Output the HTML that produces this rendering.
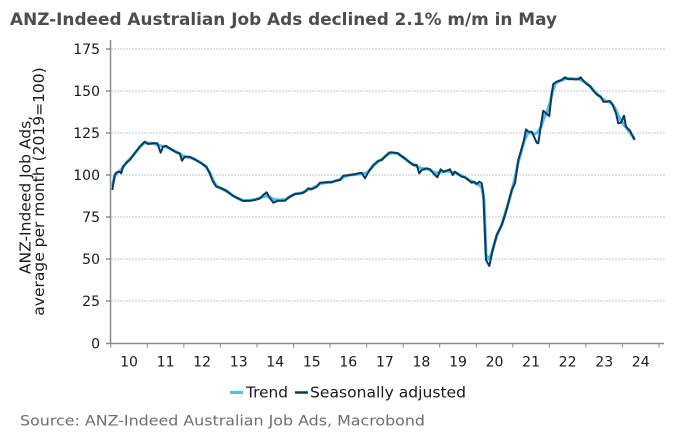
<!DOCTYPE html>
<html><head><meta charset="utf-8"><style>
html,body{margin:0;padding:0;background:#fff;}
svg{display:block;}
text{font-family:"DejaVu Sans","Liberation Sans",sans-serif;}
</style></head><body>
<svg width="680" height="440" viewBox="0 0 680 440" xmlns="http://www.w3.org/2000/svg">
<text x="10" y="25" font-size="17" font-weight="bold" fill="#4d4d4d" textLength="547" lengthAdjust="spacingAndGlyphs">ANZ-Indeed Australian Job Ads declined 2.1% m/m in May</text>
<g stroke="#bccbd6" stroke-width="1" stroke-dasharray="2,1">
<line x1="111" y1="49" x2="665" y2="49"/>
<line x1="111" y1="91" x2="665" y2="91"/>
<line x1="111" y1="133" x2="665" y2="133"/>
<line x1="111" y1="175" x2="665" y2="175"/>
<line x1="111" y1="217" x2="665" y2="217"/>
<line x1="111" y1="259" x2="665" y2="259"/>
<line x1="111" y1="301" x2="665" y2="301"/>
</g>
<g stroke="#8a8a8a" stroke-width="1.5" fill="none">
<line x1="110.5" y1="40" x2="110.5" y2="344"/>
<line x1="110" y1="343.5" x2="664" y2="343.5"/>
<line x1="106" y1="49" x2="110" y2="49"/>
<line x1="106" y1="91" x2="110" y2="91"/>
<line x1="106" y1="133" x2="110" y2="133"/>
<line x1="106" y1="175" x2="110" y2="175"/>
<line x1="106" y1="217" x2="110" y2="217"/>
<line x1="106" y1="259" x2="110" y2="259"/>
<line x1="106" y1="301" x2="110" y2="301"/>
<line x1="106" y1="343.5" x2="110" y2="343.5"/>
</g>
<g stroke="#8a8a8a" stroke-width="1">
<line x1="110.75" y1="344" x2="110.75" y2="347.5"/>
<line x1="147.3" y1="344" x2="147.3" y2="347.5"/>
<line x1="183.85" y1="344" x2="183.85" y2="347.5"/>
<line x1="220.4" y1="344" x2="220.4" y2="347.5"/>
<line x1="256.95" y1="344" x2="256.95" y2="347.5"/>
<line x1="293.5" y1="344" x2="293.5" y2="347.5"/>
<line x1="330.05" y1="344" x2="330.05" y2="347.5"/>
<line x1="366.6" y1="344" x2="366.6" y2="347.5"/>
<line x1="403.15" y1="344" x2="403.15" y2="347.5"/>
<line x1="439.7" y1="344" x2="439.7" y2="347.5"/>
<line x1="476.25" y1="344" x2="476.25" y2="347.5"/>
<line x1="512.8" y1="344" x2="512.8" y2="347.5"/>
<line x1="549.35" y1="344" x2="549.35" y2="347.5"/>
<line x1="585.9" y1="344" x2="585.9" y2="347.5"/>
<line x1="622.45" y1="344" x2="622.45" y2="347.5"/>
<line x1="659" y1="344" x2="659" y2="347.5"/>
</g>
<g font-size="14" fill="#1a1a1a" text-anchor="end">
<text x="100" y="54">175</text>
<text x="100" y="96">150</text>
<text x="100" y="138">125</text>
<text x="100" y="180">100</text>
<text x="100" y="222">75</text>
<text x="100" y="264">50</text>
<text x="100" y="306">25</text>
<text x="100" y="348.5">0</text>
</g>
<g font-size="14" fill="#1a1a1a" text-anchor="middle">
<text x="129" y="366.5">10</text>
<text x="165.6" y="366.5">11</text>
<text x="202.1" y="366.5">12</text>
<text x="238.7" y="366.5">13</text>
<text x="275.2" y="366.5">14</text>
<text x="311.8" y="366.5">15</text>
<text x="348.3" y="366.5">16</text>
<text x="384.9" y="366.5">17</text>
<text x="421.4" y="366.5">18</text>
<text x="458" y="366.5">19</text>
<text x="494.5" y="366.5">20</text>
<text x="531.1" y="366.5">21</text>
<text x="567.6" y="366.5">22</text>
<text x="604.2" y="366.5">23</text>
<text x="640.7" y="366.5">24</text>
</g>
<g transform="translate(30.5,195) rotate(-90)">
<text x="0" y="0" font-size="15.5" fill="#1a1a1a" text-anchor="middle">ANZ-Indeed Job Ads,</text>
</g>
<g transform="translate(44,191.5) rotate(-90)">
<text x="0" y="0" font-size="15.5" fill="#1a1a1a" text-anchor="middle">average per month (2019=100)</text>
</g>
<polyline fill="none" stroke="#4cc0e8" stroke-width="3" stroke-linejoin="round" points="112.3,186 114.7,176 117,172.5 121,170 124,166 127,162 131,158 135,153 140,147 144.7,142.5 148,143 153,143.5 157.3,144.5 161,146 164,146.5 167,147 171.3,149.5 176.3,152 180,154 183,156 186,157 190,157.5 195,159.5 201.3,163 206.3,167 209.7,172.5 213,180 216.3,185.5 221.3,188.5 226.3,191 233,195.5 238,198.5 243,200.5 250,200.5 255,199.5 260,198 264,196.5 267,196 270,197.5 274,199.5 279,200 285,199.5 290,196.5 295,194 301.7,193 305,191.5 308.3,189.5 312,188.5 317,186 320,183.5 326.7,182.5 331.7,182 335,181 340,179.5 343.3,177 350,175 355,174.5 360,174 365,173.5 368.3,171.5 373.3,166 378.3,161.5 381.7,159.5 385,156.5 388.3,154 392,153 395,153 398.3,154 401.7,156 405,158.5 410,162.5 413.3,164.5 417,166.5 421.7,168.5 426.7,169 430,170 433.3,172 437,173 441,172 444,171.5 447,171 450,171.5 453,172.5 456,173 459,174.5 462,176 465,177.5 468.3,179.5 472,181.5 475,183 478,184.5 481.7,187 484,200 486,255 488.5,259 491,255 494,245 497,235 501.7,225 505,214 508.3,203 511.7,191 515,178 518.3,162 521.7,150 524.5,140 528,133 532,133 535,134 538,132 541,127 544,118 547,112 550,103 552.5,92 555,84 558,81.5 562,80 566,78.5 570,78.5 575,79 579,79 582,80.5 586,83 590,86.5 593.3,90 597,94 601,97.5 604,100 607,101.5 610,102 613,105 616,110 619,117 622,122 625,126 628,130 631,134 634.6,139"/>
<polyline fill="none" stroke="#0b3a60" stroke-width="2" stroke-linejoin="round" points="112.3,190 114.7,175 116.3,172.7 119.7,171.7 121.3,173.3 123,166.7 126.3,162.7 129.7,160 134.7,153.3 139.7,146.7 144.7,141.7 148,144 153,143.3 157.3,143.3 160.7,152.7 163,146.7 166.3,146 171.3,149.3 176.3,152.3 179.7,153.3 182,160.7 184.7,156.7 189.7,156.7 194.7,159.3 201.3,163.3 206.3,166.7 209.7,173.3 213,181.7 216.3,186.7 221.3,188.3 226.3,190.7 233,196 238,198.3 243,201 249.7,200.7 255,200 260,198.3 263.3,195 266.7,192.3 270,198.3 273.3,202.7 278.3,200.7 285,200.7 290,196.7 295,194 301.7,193.3 305,191.7 308.3,188.3 311.7,189.3 316.7,186.7 320,182.7 326.7,182.3 331.7,182.3 335,181 340,180 343.3,175.7 350,175 355,174.3 358.3,173.3 361.7,172.7 365,178.3 368.3,172.3 373.3,165 378.3,160.7 381.7,160 385,156.7 388.3,153.3 390,152.3 395,152.7 398.3,153.3 401.7,156.7 403.3,157.3 406.7,160 410,162.7 413.3,165 416.7,165 419.3,173.3 421.7,170 426.7,168.3 430,169.3 433.3,173.3 437.3,177.3 440.7,169.3 443.3,171.7 446.7,170.7 450,169.3 452.7,175 455,171.7 458.3,174.3 461.7,176.7 465,177.3 468.3,180 471.7,182.7 474,181.7 476.7,184 479.3,181.7 481.7,183.3 483.3,193.3 486,260 489.3,266 492.7,250 496.7,235 501.7,225 505,215 508.3,203.3 511.7,190 515,183.3 518.3,160 521.7,148.3 524,140 526,129.3 528.3,131.7 531.7,131.7 534,136.7 536.7,142.7 538.3,143.3 540.7,126.7 543.3,110.7 546.7,114 549.3,116 551.7,93.3 553.3,84 556.7,81.7 561.7,80 565,77.3 568.3,79.3 571.7,79 575,79.3 578.3,79.3 580.7,77.3 583.3,80.7 586.7,84 590,86 593.3,90.7 597.3,95 600.7,96.7 603.3,101.7 606.7,101.7 610,101 612.7,105 616,113.3 618.3,123.3 621,122.7 624,115.7 626,126.7 630,130.7 634.6,140"/>
<line x1="230" y1="392.5" x2="243" y2="392.5" stroke="#4cc0e8" stroke-width="3"/>
<text x="246" y="397.5" font-size="15" fill="#1a1a1a" textLength="42" lengthAdjust="spacingAndGlyphs">Trend</text>
<line x1="295" y1="392.5" x2="308" y2="392.5" stroke="#0b3a60" stroke-width="2.5"/>
<text x="310" y="397.5" font-size="15" fill="#1a1a1a" textLength="156" lengthAdjust="spacingAndGlyphs">Seasonally adjusted</text>
<text x="20" y="425.5" font-size="14.5" fill="#6e6e6e" textLength="405" lengthAdjust="spacingAndGlyphs">Source: ANZ-Indeed Australian Job Ads, Macrobond</text>
</svg>
</body></html>
